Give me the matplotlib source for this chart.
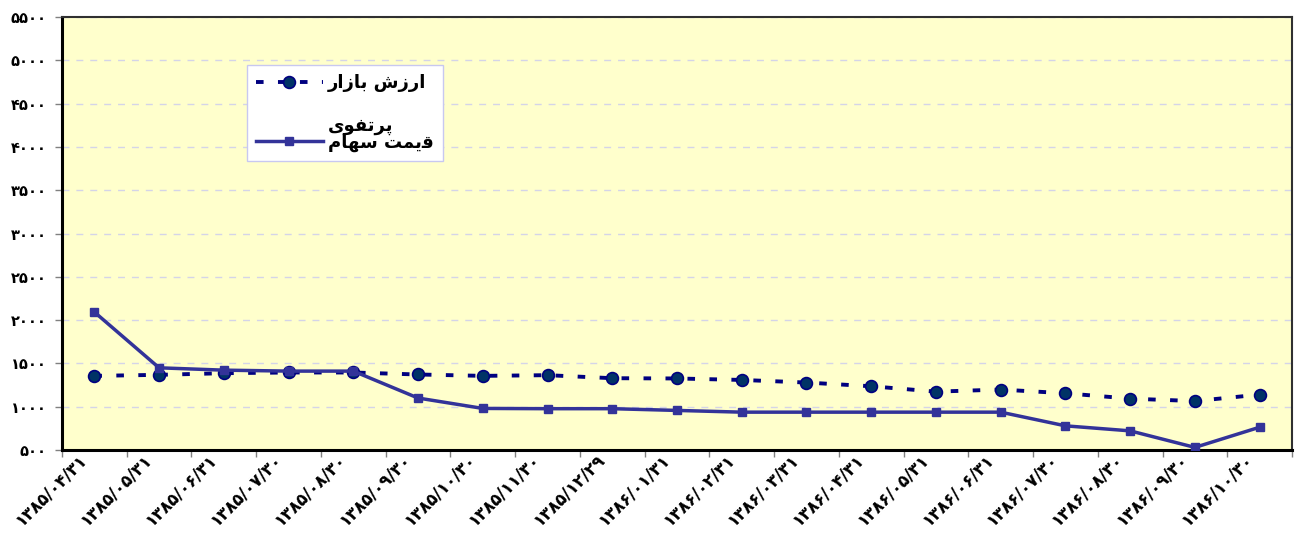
import matplotlib
matplotlib.use("Agg")
import matplotlib.pyplot as plt
from matplotlib.ticker import FixedLocator, FuncFormatter
from matplotlib.transforms import ScaledTranslation

# ---------------- data ----------------
x_labels = ['۱۳۸۵/۰۴/۳۱', '۱۳۸۵/۰۵/۳۱', '۱۳۸۵/۰۶/۳۱', '۱۳۸۵/۰۷/۳۰', '۱۳۸۵/۰۸/۳۰',
            '۱۳۸۵/۰۹/۳۰', '۱۳۸۵/۱۰/۳۰', '۱۳۸۵/۱۱/۳۰', '۱۳۸۵/۱۲/۲۹', '۱۳۸۶/۰۱/۳۱',
            '۱۳۸۶/۰۲/۳۱', '۱۳۸۶/۰۳/۳۱', '۱۳۸۶/۰۴/۳۱', '۱۳۸۶/۰۵/۳۱', '۱۳۸۶/۰۶/۳۱',
            '۱۳۸۶/۰۷/۳۰', '۱۳۸۶/۰۸/۳۰', '۱۳۸۶/۰۹/۳۰', '۱۳۸۶/۱۰/۳۰']
market_value = [1356, 1368, 1387, 1395, 1395, 1372, 1356, 1364, 1329, 1326,
                1309, 1279, 1236, 1174, 1198, 1155, 1093, 1065, 1140]
share_price = [2093, 1449, 1422, 1411, 1411, 1100, 980, 977, 977, 957,
               937, 937, 937, 937, 937, 779, 721, 530, 763]
y_ticks = [500, 1000, 1500, 2000, 2500, 3000, 3500, 4000, 4500, 5000, 5500]

# Persian labels (logical text: "ارزش بازار پرتفوی", "قیمت سهام"),
# written in Arabic presentation forms in visual order because
# matplotlib does not shape Arabic script.
label_market_1 = '\uFEAD\uFE8D\uFEAF\uFE8E\uFE91 \uFEB5\uFEAF\uFEAD\uFE8D'   # ارزش بازار
label_market_2 = '\uFBFC\uFEEE\uFED4\uFE97\uFEAE\uFB58'                      # پرتفوی
label_price = '\uFEE1\uFE8E\uFEEC\uFEB3 \uFE96\uFEE4\uFBFE\uFED7'            # قیمت سهام

FA_DIGITS = str.maketrans('0123456789', '۰۱۲۳۴۵۶۷۸۹')

# ---------------- figure ----------------
plt.rcParams['font.family'] = ['DejaVu Sans']
fig = plt.figure(figsize=(12.96, 5.37), dpi=100)
ax = fig.add_axes([62 / 1296, 87 / 537, 1230 / 1296, 433 / 537])
ax.set_facecolor('#FFFFCC')

x = list(range(len(x_labels)))
ln1, = ax.plot(x, market_value, color='#000080', lw=2.8, ls=(0, (1.95, 3.7)),
               marker='o', markersize=8.5, markerfacecolor='#003366',
               markeredgecolor='#000080', markeredgewidth=1.2, zorder=3)
ln2, = ax.plot(x, share_price, color='#333399', lw=2.5, ls='-',
               marker='s', markersize=5.5, markerfacecolor='#333399',
               markeredgecolor='#333399', zorder=4)

ax.set_xlim(-0.5, len(x_labels) - 0.5)
ax.set_ylim(500, 5500)

ax.yaxis.set_major_locator(FixedLocator(y_ticks))
ax.yaxis.set_major_formatter(FuncFormatter(lambda v, p: str(int(v)).translate(FA_DIGITS)))
ax.grid(axis='y', color='#D4D4E8', ls=(0, (5, 5)), lw=1.0, zorder=0)
ax.set_axisbelow(True)

# x ticks at category boundaries, labels at centers
ax.set_xticks([i - 0.5 for i in range(len(x_labels) + 1)])
ax.set_xticklabels([])
ax.set_xticks(x, minor=True)
ax.set_xticklabels(x_labels, minor=True, rotation=45, ha='right', va='center',
                   rotation_mode='anchor', fontsize=12, fontweight='bold')
ax.tick_params(axis='x', which='minor', length=0, pad=5)
ax.tick_params(axis='x', which='major', length=5, width=1, color='#808080', direction='out')
ax.tick_params(axis='y', length=5, width=1, color='#808080', direction='out',
               labelsize=10.5, pad=6)
for t in ax.get_yticklabels():
    t.set_fontweight('bold')
shift = ScaledTranslation(-10 / 100, 0, fig.dpi_scale_trans)
for t in ax.get_xticklabels(minor=True):
    t.set_transform(t.get_transform() + shift)

for side in ['left', 'bottom']:
    ax.spines[side].set_color('black')
    ax.spines[side].set_linewidth(2.2)
for side in ['top', 'right']:
    ax.spines[side].set_color('#303030')
    ax.spines[side].set_linewidth(1.5)

leg = ax.legend([ln1, ln2], [label_market_1, label_price],
                loc='upper left', bbox_to_anchor=(0.1504, 0.889),
                frameon=True, fancybox=False, framealpha=1.0,
                facecolor='white', edgecolor='#C8C8F0',
                prop={'weight': 'bold', 'size': 13},
                handlelength=3.7, handletextpad=0.3, labelspacing=2.3,
                borderpad=0.5, borderaxespad=0)
leg.get_frame().set_linewidth(1.0)

fig.canvas.draw()
tb = leg.get_texts()[1].get_window_extent()
inv = ax.transAxes.inverted()
x0, y0 = inv.transform((tb.x0, tb.y1 + 8))
ax.text(x0, y0, label_market_2, transform=ax.transAxes, ha='left', va='center',
        fontsize=13, fontweight='bold', zorder=6)

fig.savefig('out.png', dpi=100, facecolor='white')
